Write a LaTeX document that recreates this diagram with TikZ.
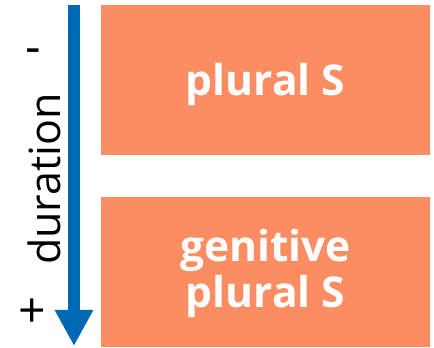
\documentclass[tikz,border=0pt]{standalone}
\usepackage{fontspec}
\setmainfont{Open Sans}
\usetikzlibrary{arrows.meta}
\definecolor{boxorange}{RGB}{252,141,98}
\definecolor{axisblue}{RGB}{0,105,180}
\begin{document}
\begin{tikzpicture}[x=1pt,y=1pt,
  catbox/.style={fill=boxorange, draw=none, minimum width=329pt, minimum height=150pt, inner sep=0pt},
  catlabel/.style={text=white, font=\fontsize{42.5}{46}\selectfont\bfseries, align=center, inner sep=0pt},
  axislabel/.style={font=\fontsize{43}{46}\selectfont, inner sep=0pt},
  signlabel/.style={font=\fontsize{48}{50}\selectfont, inner sep=0pt}]
  \useasboundingbox (0,0) rectangle (434,348);
  % category boxes and their labels
  \node[catbox] (plural) at (265.5,268) {};
  \node[catbox] (genitive) at (265.5,76) {};
  \node[catlabel] (plurallbl) at ([yshift=-4pt]plural.center) {plural S};
  \node[catlabel] (genitivelbl) at ([yshift=-1pt]genitive.center) {genitive\\plural S};
  % duration axis
  \coordinate (axtop) at (74,343);
  \coordinate (axtip) at (74,2);
  \draw[axisblue, line width=12pt, -{Triangle[width=36pt,length=36pt]}] (axtop) -- (axtip);
  \node[axislabel, rotate=90, anchor=base] (dur) at (60,169) {duration};
  \node[signlabel] (minus) at (33,292) {-};
  \node[signlabel] (plus) at (32,35) {+};
\end{tikzpicture}
\end{document}
